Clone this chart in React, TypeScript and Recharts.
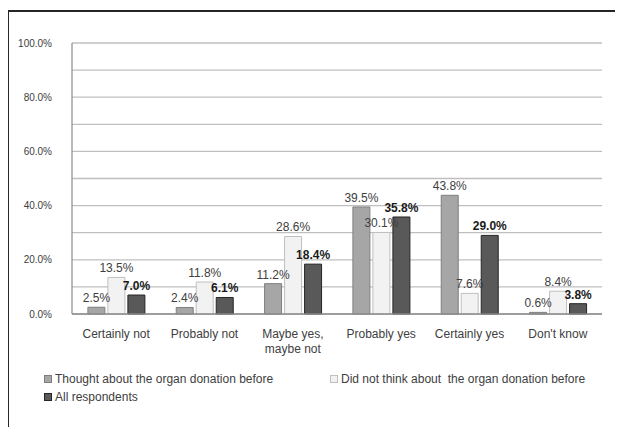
import React from "react";
import { BarChart, Bar, XAxis, YAxis, CartesianGrid, LabelList } from "recharts";

const categories = ["Certainly not", "Probably not", "Maybe yes,\nmaybe not", "Probably yes", "Certainly yes", "Don't know"];
const thoughtBefore = [2.5, 2.4, 11.2, 39.5, 43.8, 0.6];
const notThoughtBefore = [13.5, 11.8, 28.6, 30.1, 7.6, 8.4];
const allRespondents = [7.0, 6.1, 18.4, 35.8, 29.0, 3.8];
const seriesNames = [
  "Thought about the organ donation before",
  "Did not think about\u00a0 the organ donation before",
  "All respondents",
];
const yTicks = [0, 10, 20, 30, 40, 50, 60, 70, 80, 90, 100];
const yLabelled = [0, 20, 40, 60, 80, 100];

const data = categories.map((c, i) => ({
  name: c,
  s1: thoughtBefore[i],
  s2: notThoughtBefore[i],
  s3: allRespondents[i],
}));

const FONT = "'Liberation Sans', Arial, sans-serif";

const fills = ["#a6a6a6", "#f2f2f2", "#595959"];
const strokes = ["#7f7f7f", "#bfbfbf", "#262626"];
const keys = ["s1", "s2", "s3"];

const CatTick = (props: any) => {
  const { x, y, payload } = props;
  const lines = String(payload.value).split("\n");
  return (
    <text x={x} y={y} textAnchor="middle" fontFamily={FONT} fontSize={12} fill="#404040">
      {lines.map((l, i) => (
        <tspan key={i} x={x} dy={i === 0 ? 22 : 15}>
          {l}
        </tspan>
      ))}
    </text>
  );
};

const fmt = (v: number) => `${v.toFixed(1)}%`;

export default function App() {
  return (
    <div style={{ position: "relative", width: 615, height: 419 }}>
      <div style={{ position: "absolute", left: 0, top: 0 }}>
        <BarChart
          width={615}
          height={419}
          data={data}
          margin={{ top: 35, right: 21, bottom: 73, left: 0 }}
          barCategoryGap="18%"
          barGap={3}
        >
          <CartesianGrid vertical={false} stroke="#bfbfbf" strokeWidth={1.3} />
          <XAxis
            dataKey="name"
            interval={0}
            tickLine={false}
            tickSize={0}
            tick={<CatTick />}
            axisLine={{ stroke: "#8c8c8c", strokeWidth: 1.5 }}
            height={40}
          />
          <YAxis
            domain={[0, 100]}
            ticks={yTicks}
            interval={0}
            width={64}
            tickLine={false}
            tickSize={0}
            tickMargin={20}
            axisLine={{ stroke: "#8c8c8c", strokeWidth: 1.2 }}
            tick={{ fontFamily: FONT, fontSize: 10, fill: "#404040" }}
            tickFormatter={(v: number) => (yLabelled.includes(v) ? fmt(v) : "")}
          />
          {keys.map((k, i) => (
            <Bar
              key={k}
              dataKey={k}
              name={seriesNames[i]}
              fill={fills[i]}
              stroke={strokes[i]}
              strokeWidth={1}
              isAnimationActive={false}
            >
              <LabelList
                dataKey={k}
                position="top"
                offset={5}
                formatter={fmt}
                style={{
                  fontFamily: FONT,
                  fontSize: 12,
                  fill: i === 2 ? "#1a1a1a" : "#404040",
                  fontWeight: i === 2 ? "bold" : "normal",
                }}
              />
            </Bar>
          ))}
        </BarChart>
      </div>
      <div
        style={{
          position: "absolute",
          left: 36,
          top: 362,
          width: 580,
          display: "flex",
          flexWrap: "wrap",
          fontFamily: FONT,
          fontSize: 12,
          color: "#404040",
        }}
      >
        {seriesNames.map((n, i) => (
          <div
            key={i}
            style={{ width: i % 2 === 0 ? 286 : 280, display: "flex", alignItems: "center", height: 18, whiteSpace: "nowrap" }}
          >
            <span
              style={{
                display: "inline-block",
                width: 6,
                height: 6,
                background: fills[i],
                border: `1px solid ${strokes[i]}`,
                marginRight: 3,
              }}
            />
            <span>{n}</span>
          </div>
        ))}
      </div>
      <div
        style={{
          position: "absolute",
          left: -1,
          top: 2,
          width: 616,
          height: 417,
          borderTop: "2px solid #262626",
          borderLeft: "2px solid #262626",
          boxSizing: "border-box",
          pointerEvents: "none",
        }}
      />
    </div>
  );
}
